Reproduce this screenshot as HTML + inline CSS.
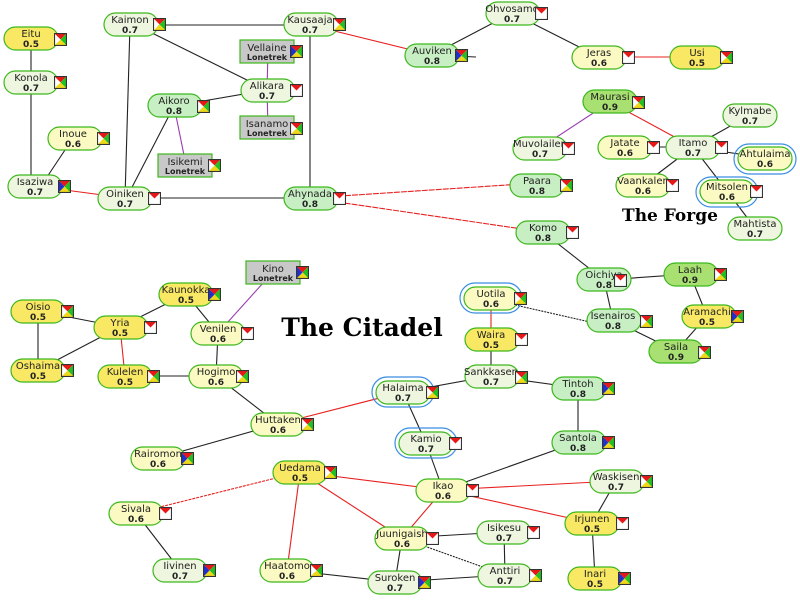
<!DOCTYPE html>
<html><head><meta charset="utf-8"><style>
body{margin:0;background:#fff}
svg{display:block;font-family:"DejaVu Sans","Liberation Sans",sans-serif}
.n{stroke:#3cb81c;stroke-width:1.2}
.c5{fill:#f8e864}.c6{fill:#fafac2}.c7{fill:#eef6df}.c8{fill:#c8eec4}.c9{fill:#a8e072}
.r{fill:#c8c8c8;stroke:#3cb81c;stroke-width:1.2}
.t{font-size:10px;text-anchor:middle;fill:#222}
.v{font-size:9px;font-weight:bold;text-anchor:middle;fill:#222}
.k{stroke:#222;stroke-width:1.1;fill:none}
.rd{stroke:#e82020;stroke-width:1.1;fill:none}
.pu{stroke:#9a3cb0;stroke-width:1.1;fill:none}
.ring{fill:none;stroke:#3a8ee0;stroke-width:1.2}
</style></head><body>
<svg width="800" height="600" viewBox="0 0 800 600">
<defs>
<symbol id="ia" viewBox="0 0 12 12"><path d="M0 0H12L6 6Z" fill="#e81818"/><path d="M12 0V12L6 6Z" fill="#22c022"/><path d="M0 12H12L6 6Z" fill="#f0d818"/><path d="M0 0V12L6 6Z" fill="#fff"/><rect x=".5" y=".5" width="11" height="11" fill="none" stroke="#333"/></symbol>
<symbol id="ib" viewBox="0 0 12 12"><path d="M0 0H12L6 6Z" fill="#e81818"/><path d="M12 0V12L6 6Z" fill="#22c022"/><path d="M0 12H12L6 6Z" fill="#f0d818"/><path d="M0 0V12L6 6Z" fill="#2030d0"/><rect x=".5" y=".5" width="11" height="11" fill="none" stroke="#333"/></symbol>
<symbol id="ic" viewBox="0 0 12 12"><rect width="12" height="12" fill="#fff"/><path d="M0 0H12L6 6Z" fill="#e81818"/><rect x=".5" y=".5" width="11" height="11" fill="none" stroke="#333"/></symbol>
</defs>

<g class="k">
<line x1="31" y1="38" x2="31" y2="82"/><line x1="31" y1="82" x2="31" y2="186"/>
<line x1="73" y1="138" x2="45" y2="180"/>
<line x1="130" y1="25" x2="310" y2="25"/><line x1="130" y1="25" x2="125" y2="198"/>
<line x1="150" y1="32" x2="267" y2="90"/><line x1="267" y1="90" x2="174" y2="106"/>
<line x1="174" y1="106" x2="128" y2="195"/><line x1="310" y1="25" x2="310" y2="198"/>
<line x1="125" y1="198" x2="310" y2="198"/>
<line x1="432" y1="55" x2="512" y2="13"/><line x1="432" y1="55" x2="476" y2="57"/>
<line x1="512" y1="13" x2="599" y2="57"/>
<line x1="693" y1="147" x2="750" y2="115"/><line x1="625" y1="147" x2="693" y2="147"/>
<line x1="693" y1="147" x2="643" y2="185"/><line x1="693" y1="147" x2="727" y2="191"/>
<line x1="693" y1="147" x2="765" y2="158"/><line x1="727" y1="191" x2="755" y2="228"/>
<line x1="543" y1="232" x2="604" y2="280"/><line x1="604" y1="280" x2="690" y2="274"/>
<line x1="604" y1="280" x2="613" y2="320"/><line x1="613" y1="320" x2="676" y2="351"/>
<line x1="690" y1="274" x2="707" y2="316"/><line x1="707" y1="316" x2="676" y2="351"/>
<line x1="515" y1="305" x2="590" y2="322" stroke-dasharray="2 1"/>
<line x1="491" y1="339" x2="491" y2="376"/><line x1="491" y1="376" x2="578" y2="388"/>
<line x1="491" y1="376" x2="403" y2="392"/><line x1="403" y1="392" x2="426" y2="443"/>
<line x1="578" y1="388" x2="578" y2="442"/><line x1="578" y1="442" x2="443" y2="490"/>
<line x1="426" y1="443" x2="443" y2="490"/>
<line x1="402" y1="538" x2="504" y2="532"/><line x1="402" y1="538" x2="505" y2="575" stroke-dasharray="2 1"/>
<line x1="402" y1="538" x2="395" y2="582"/><line x1="504" y1="532" x2="505" y2="575"/>
<line x1="395" y1="582" x2="505" y2="575"/><line x1="395" y1="582" x2="287" y2="570"/>
<line x1="592" y1="523" x2="616" y2="481"/><line x1="592" y1="523" x2="595" y2="578"/>
<line x1="136" y1="513" x2="180" y2="570"/>
<line x1="278" y1="424" x2="158" y2="458"/><line x1="278" y1="424" x2="216" y2="376"/>
<line x1="216" y1="376" x2="125" y2="376"/><line x1="216" y1="376" x2="218" y2="333"/>
<line x1="218" y1="333" x2="186" y2="294"/><line x1="186" y1="294" x2="120" y2="327"/>
<line x1="120" y1="327" x2="38" y2="311"/><line x1="120" y1="327" x2="38" y2="370"/>
<line x1="38" y1="311" x2="38" y2="370"/>
</g>
<g class="rd">
<line x1="35" y1="186" x2="125" y2="198"/><line x1="310" y1="25" x2="432" y2="55"/>
<line x1="310" y1="198" x2="537" y2="183" stroke-dasharray="6 1"/><line x1="310" y1="198" x2="543" y2="232" stroke-dasharray="6 1"/>
<line x1="599" y1="57" x2="697" y2="57"/><line x1="610" y1="102" x2="693" y2="147"/>
<line x1="491" y1="298" x2="491" y2="339"/><line x1="403" y1="392" x2="278" y2="424"/>
<line x1="443" y1="490" x2="616" y2="481"/><line x1="443" y1="490" x2="592" y2="523"/>
<line x1="443" y1="490" x2="300" y2="472"/><line x1="443" y1="490" x2="402" y2="538"/>
<line x1="300" y1="472" x2="402" y2="538"/><line x1="300" y1="472" x2="136" y2="513" stroke-dasharray="3 1"/>
<line x1="300" y1="472" x2="287" y2="570"/><line x1="120" y1="327" x2="125" y2="376"/>
</g>
<g class="pu">
<line x1="174" y1="106" x2="185" y2="160"/><line x1="268" y1="51" x2="267" y2="90"/>
<line x1="267" y1="90" x2="268" y2="127"/><line x1="610" y1="102" x2="540" y2="148"/>
<line x1="218" y1="333" x2="273" y2="272"/>
</g>

<rect class="ring" x="460" y="283" width="62" height="30" rx="15"/>
<rect class="ring" x="734" y="144" width="62" height="30" rx="15"/>
<rect class="ring" x="696" y="177" width="62" height="30" rx="15"/>
<rect class="ring" x="372" y="377" width="62" height="30" rx="15"/>
<rect class="ring" x="395" y="428" width="62" height="30" rx="15"/>

<g>
<rect class="n c5" x="4" y="27" width="54" height="23" rx="11.5"/><text class="t" x="31" y="37">Eitu</text><text class="v" x="31" y="47">0.5</text><use href="#ia" x="54" y="33" width="13" height="13"/>
<rect class="n c7" x="4" y="71" width="54" height="23" rx="11.5"/><text class="t" x="31" y="81">Konola</text><text class="v" x="31" y="91">0.7</text><use href="#ia" x="54" y="76" width="13" height="13"/>
<rect class="n c6" x="48" y="127" width="54" height="23" rx="11.5"/><text class="t" x="73" y="137">Inoue</text><text class="v" x="73" y="147">0.6</text><use href="#ia" x="97" y="132" width="13" height="13"/>
<rect class="n c7" x="8" y="175" width="54" height="23" rx="11.5"/><text class="t" x="35" y="185">Isaziwa</text><text class="v" x="35" y="195">0.7</text><use href="#ib" x="58" y="180" width="13" height="13"/>
<rect class="n c7" x="104" y="13" width="54" height="23" rx="11.5"/><text class="t" x="130" y="23">Kaimon</text><text class="v" x="130" y="33">0.7</text><use href="#ia" x="153" y="18" width="13" height="13"/>
<rect class="n c7" x="284" y="13" width="54" height="23" rx="11.5"/><text class="t" x="310" y="23">Kausaaja</text><text class="v" x="310" y="33">0.7</text><use href="#ia" x="333" y="18" width="13" height="13"/>
<rect class="r" x="240" y="40" width="54" height="23"/><text class="t" x="267" y="51">Vellaine</text><text class="v" x="267" y="60" style="font-size:8px">Lonetrek</text><use href="#ib" x="290" y="45" width="13" height="13"/>
<rect class="n c7" x="241" y="79" width="54" height="23" rx="11.5"/><text class="t" x="267" y="89">Alikara</text><text class="v" x="267" y="99">0.7</text><use href="#ic" x="290" y="84" width="13" height="13"/>
<rect class="n c8" x="148" y="94" width="54" height="23" rx="11.5"/><text class="t" x="174" y="104">Aikoro</text><text class="v" x="174" y="114">0.8</text><use href="#ia" x="197" y="100" width="13" height="13"/>
<rect class="r" x="240" y="116" width="54" height="23"/><text class="t" x="267" y="127">Isanamo</text><text class="v" x="267" y="136" style="font-size:8px">Lonetrek</text><use href="#ia" x="290" y="122" width="13" height="13"/>
<rect class="r" x="158" y="154" width="54" height="23"/><text class="t" x="185" y="165">Isikemi</text><text class="v" x="185" y="174" style="font-size:8px">Lonetrek</text><use href="#ia" x="208" y="159" width="13" height="13"/>
<rect class="n c7" x="98" y="187" width="54" height="23" rx="11.5"/><text class="t" x="125" y="197">Oiniken</text><text class="v" x="125" y="207">0.7</text><use href="#ic" x="148" y="192" width="13" height="13"/>
<rect class="n c8" x="284" y="187" width="54" height="23" rx="11.5"/><text class="t" x="310" y="197">Ahynada</text><text class="v" x="310" y="207">0.8</text><use href="#ic" x="333" y="192" width="13" height="13"/>
<rect class="n c7" x="486" y="2" width="54" height="23" rx="11.5"/><text class="t" x="512" y="12">Ohvosamo</text><text class="v" x="512" y="22">0.7</text><use href="#ic" x="535" y="7" width="13" height="13"/>
<rect class="n c8" x="405" y="44" width="54" height="23" rx="11.5"/><text class="t" x="432" y="54">Auviken</text><text class="v" x="432" y="64">0.8</text><use href="#ib" x="455" y="49" width="13" height="13"/>
<rect class="n c6" x="572" y="46" width="54" height="23" rx="11.5"/><text class="t" x="599" y="56">Jeras</text><text class="v" x="599" y="66">0.6</text><use href="#ic" x="622" y="51" width="13" height="13"/>
<rect class="n c5" x="670" y="46" width="54" height="23" rx="11.5"/><text class="t" x="697" y="56">Usi</text><text class="v" x="697" y="66">0.5</text><use href="#ia" x="720" y="51" width="13" height="13"/>
<rect class="n c9" x="583" y="90" width="54" height="23" rx="11.5"/><text class="t" x="610" y="100">Maurasi</text><text class="v" x="610" y="110">0.9</text><use href="#ia" x="632" y="96" width="13" height="13"/>
<rect class="n c7" x="723" y="104" width="54" height="23" rx="11.5"/><text class="t" x="750" y="114">Kylmabe</text><text class="v" x="750" y="124">0.7</text>
<rect class="n c7" x="513" y="137" width="54" height="23" rx="11.5"/><text class="t" x="540" y="147">Muvolailen</text><text class="v" x="540" y="157">0.7</text><use href="#ic" x="562" y="142" width="13" height="13"/>
<rect class="n c6" x="598" y="136" width="54" height="23" rx="11.5"/><text class="t" x="625" y="146">Jatate</text><text class="v" x="625" y="156">0.6</text><use href="#ic" x="647" y="141" width="13" height="13"/>
<rect class="n c7" x="666" y="136" width="54" height="23" rx="11.5"/><text class="t" x="693" y="146">Itamo</text><text class="v" x="693" y="156">0.7</text><use href="#ic" x="715" y="141" width="13" height="13"/>
<rect class="n c6" x="738" y="147" width="54" height="23" rx="11.5"/><text class="t" x="765" y="157">Ahtulaima</text><text class="v" x="765" y="167">0.6</text>
<rect class="n c8" x="510" y="174" width="54" height="23" rx="11.5"/><text class="t" x="537" y="184">Paara</text><text class="v" x="537" y="194">0.8</text><use href="#ia" x="560" y="179" width="13" height="13"/>
<rect class="n c6" x="616" y="174" width="54" height="23" rx="11.5"/><text class="t" x="643" y="184">Vaankalen</text><text class="v" x="643" y="194">0.6</text><use href="#ic" x="666" y="179" width="13" height="13"/>
<rect class="n c6" x="700" y="180" width="54" height="23" rx="11.5"/><text class="t" x="727" y="190">Mitsolen</text><text class="v" x="727" y="200">0.6</text><use href="#ic" x="750" y="185" width="13" height="13"/>
<rect class="n c7" x="728" y="217" width="54" height="23" rx="11.5"/><text class="t" x="755" y="227">Mahtista</text><text class="v" x="755" y="237">0.7</text>
<rect class="n c8" x="516" y="221" width="54" height="23" rx="11.5"/><text class="t" x="543" y="231">Komo</text><text class="v" x="543" y="241">0.8</text><use href="#ic" x="566" y="226" width="13" height="13"/>
<rect class="n c8" x="577" y="268" width="54" height="23" rx="11.5"/><text class="t" x="604" y="278">Oichiya</text><text class="v" x="604" y="288">0.8</text><use href="#ic" x="614" y="274" width="13" height="13"/>
<rect class="n c9" x="664" y="263" width="54" height="23" rx="11.5"/><text class="t" x="690" y="273">Laah</text><text class="v" x="690" y="283">0.9</text><use href="#ia" x="714" y="268" width="13" height="13"/>
<rect class="n c6" x="464" y="287" width="54" height="23" rx="11.5"/><text class="t" x="491" y="297">Uotila</text><text class="v" x="491" y="307">0.6</text><use href="#ia" x="514" y="292" width="13" height="13"/>
<rect class="n c8" x="587" y="309" width="54" height="23" rx="11.5"/><text class="t" x="613" y="319">Isenairos</text><text class="v" x="613" y="329">0.8</text><use href="#ia" x="640" y="315" width="13" height="13"/>
<rect class="n c5" x="682" y="305" width="54" height="23" rx="11.5"/><text class="t" x="707" y="315">Aramachi</text><text class="v" x="707" y="325">0.5</text><use href="#ib" x="731" y="310" width="13" height="13"/>
<rect class="n c5" x="465" y="328" width="54" height="23" rx="11.5"/><text class="t" x="491" y="338">Waira</text><text class="v" x="491" y="348">0.5</text><use href="#ic" x="515" y="333" width="13" height="13"/>
<rect class="n c9" x="649" y="340" width="54" height="23" rx="11.5"/><text class="t" x="676" y="350">Saila</text><text class="v" x="676" y="360">0.9</text><use href="#ia" x="698" y="346" width="13" height="13"/>
<rect class="n c7" x="465" y="365" width="54" height="23" rx="11.5"/><text class="t" x="491" y="375">Sankkasen</text><text class="v" x="491" y="385">0.7</text><use href="#ia" x="515" y="371" width="13" height="13"/>
<rect class="n c8" x="552" y="377" width="54" height="23" rx="11.5"/><text class="t" x="578" y="387">Tintoh</text><text class="v" x="578" y="397">0.8</text><use href="#ib" x="602" y="382" width="13" height="13"/>
<rect class="n c7" x="376" y="381" width="54" height="23" rx="11.5"/><text class="t" x="403" y="391">Halaima</text><text class="v" x="403" y="401">0.7</text><use href="#ia" x="426" y="386" width="13" height="13"/>
<rect class="n c7" x="399" y="432" width="54" height="23" rx="11.5"/><text class="t" x="426" y="442">Kamio</text><text class="v" x="426" y="452">0.7</text><use href="#ic" x="449" y="437" width="13" height="13"/>
<rect class="n c8" x="552" y="431" width="54" height="23" rx="11.5"/><text class="t" x="578" y="441">Santola</text><text class="v" x="578" y="451">0.8</text><use href="#ib" x="602" y="436" width="13" height="13"/>
<rect class="n c7" x="590" y="470" width="54" height="23" rx="11.5"/><text class="t" x="616" y="480">Waskisen</text><text class="v" x="616" y="490">0.7</text><use href="#ia" x="640" y="475" width="13" height="13"/>
<rect class="n c6" x="416" y="479" width="54" height="23" rx="11.5"/><text class="t" x="443" y="489">Ikao</text><text class="v" x="443" y="499">0.6</text><use href="#ic" x="466" y="484" width="13" height="13"/>
<rect class="n c5" x="565" y="512" width="54" height="23" rx="11.5"/><text class="t" x="592" y="522">Irjunen</text><text class="v" x="592" y="532">0.5</text><use href="#ic" x="616" y="517" width="13" height="13"/>
<rect class="n c7" x="477" y="521" width="54" height="23" rx="11.5"/><text class="t" x="504" y="531">Isikesu</text><text class="v" x="504" y="541">0.7</text><use href="#ic" x="527" y="526" width="13" height="13"/>
<rect class="n c6" x="375" y="527" width="54" height="23" rx="11.5"/><text class="t" x="402" y="537">Juunigaish</text><text class="v" x="402" y="547">0.6</text><use href="#ic" x="426" y="532" width="13" height="13"/>
<rect class="n c5" x="568" y="567" width="54" height="23" rx="11.5"/><text class="t" x="595" y="577">Inari</text><text class="v" x="595" y="587">0.5</text><use href="#ib" x="618" y="572" width="13" height="13"/>
<rect class="n c7" x="478" y="564" width="54" height="23" rx="11.5"/><text class="t" x="505" y="574">Anttiri</text><text class="v" x="505" y="584">0.7</text><use href="#ia" x="529" y="569" width="13" height="13"/>
<rect class="n c7" x="368" y="571" width="54" height="23" rx="11.5"/><text class="t" x="395" y="581">Suroken</text><text class="v" x="395" y="591">0.7</text><use href="#ib" x="418" y="576" width="13" height="13"/>
<rect class="n c6" x="260" y="559" width="54" height="23" rx="11.5"/><text class="t" x="287" y="569">Haatomo</text><text class="v" x="287" y="579">0.6</text><use href="#ia" x="310" y="564" width="13" height="13"/>
<rect class="n c5" x="273" y="461" width="54" height="23" rx="11.5"/><text class="t" x="300" y="471">Uedama</text><text class="v" x="300" y="481">0.5</text><use href="#ia" x="324" y="466" width="13" height="13"/>
<rect class="n c6" x="109" y="502" width="54" height="23" rx="11.5"/><text class="t" x="136" y="512">Sivala</text><text class="v" x="136" y="522">0.6</text><use href="#ic" x="159" y="507" width="13" height="13"/>
<rect class="n c7" x="153" y="559" width="54" height="23" rx="11.5"/><text class="t" x="180" y="569">Iivinen</text><text class="v" x="180" y="579">0.7</text><use href="#ib" x="203" y="564" width="13" height="13"/>
<rect class="n c6" x="131" y="447" width="54" height="23" rx="11.5"/><text class="t" x="158" y="457">Rairomon</text><text class="v" x="158" y="467">0.6</text><use href="#ib" x="181" y="452" width="13" height="13"/>
<rect class="n c6" x="251" y="413" width="54" height="23" rx="11.5"/><text class="t" x="278" y="423">Huttaken</text><text class="v" x="278" y="433">0.6</text><use href="#ia" x="301" y="418" width="13" height="13"/>
<rect class="n c6" x="189" y="365" width="54" height="23" rx="11.5"/><text class="t" x="216" y="375">Hogimo</text><text class="v" x="216" y="385">0.6</text><use href="#ia" x="236" y="370" width="13" height="13"/>
<rect class="n c5" x="98" y="365" width="54" height="23" rx="11.5"/><text class="t" x="125" y="375">Kulelen</text><text class="v" x="125" y="385">0.5</text><use href="#ia" x="147" y="370" width="13" height="13"/>
<rect class="n c6" x="191" y="322" width="54" height="23" rx="11.5"/><text class="t" x="218" y="332">Venilen</text><text class="v" x="218" y="342">0.6</text><use href="#ic" x="241" y="327" width="13" height="13"/>
<rect class="n c5" x="159" y="283" width="54" height="23" rx="11.5"/><text class="t" x="186" y="293">Kaunokka</text><text class="v" x="186" y="303">0.5</text><use href="#ib" x="208" y="288" width="13" height="13"/>
<rect class="r" x="246" y="261" width="54" height="23"/><text class="t" x="273" y="272">Kino</text><text class="v" x="273" y="281" style="font-size:8px">Lonetrek</text><use href="#ib" x="296" y="266" width="13" height="13"/>
<rect class="n c5" x="94" y="316" width="54" height="23" rx="11.5"/><text class="t" x="120" y="326">Yria</text><text class="v" x="120" y="336">0.5</text><use href="#ic" x="144" y="321" width="13" height="13"/>
<rect class="n c5" x="11" y="300" width="54" height="23" rx="11.5"/><text class="t" x="38" y="310">Oisio</text><text class="v" x="38" y="320">0.5</text><use href="#ia" x="61" y="305" width="13" height="13"/>
<rect class="n c5" x="11" y="359" width="54" height="23" rx="11.5"/><text class="t" x="38" y="369">Oshaima</text><text class="v" x="38" y="379">0.5</text><use href="#ia" x="61" y="364" width="13" height="13"/>
</g>
<text x="362" y="336" text-anchor="middle" style="font-family:'DejaVu Serif','Liberation Serif',serif;font-weight:bold;font-size:25px;fill:#000">The Citadel</text>
<text x="670" y="221" text-anchor="middle" style="font-family:'DejaVu Serif','Liberation Serif',serif;font-weight:bold;font-size:17px;fill:#000">The Forge</text>
</svg>
</body></html>
